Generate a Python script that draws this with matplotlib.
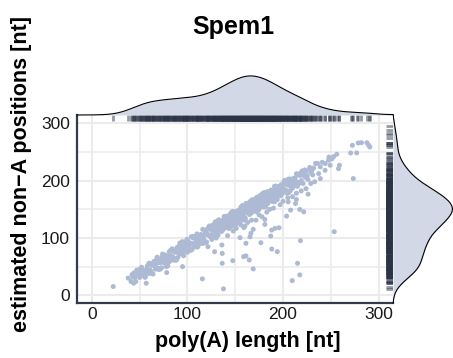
import numpy as np
import matplotlib
matplotlib.use("Agg")
import matplotlib.pyplot as plt
import matplotlib.transforms as mtransforms

plt.rcParams['font.family'] = ['Liberation Sans', 'DejaVu Sans']

# ---------------- data ----------------
band_length = [
    38, 41, 44,
    46, 48, 49, 51, 52, 54,
    55, 56, 58, 59, 60, 62, 63, 64,
    65, 66, 67, 68, 70, 71, 72, 73, 74, 75,
    76, 77, 78, 79, 80, 81, 82, 83, 84, 85,
    86, 87, 88, 89, 90, 91, 92, 93, 94, 95, 95.5,
    96, 97, 98, 99, 100, 101, 102, 103, 104, 105, 97.5, 100.5,
    106, 107, 108, 109, 110, 111, 112, 113, 114, 115, 107.5, 110.5, 112.5, 114.5,
    116, 117, 118, 119, 120, 121, 122, 123, 124, 125, 116.5, 118.5, 120.5, 122.5, 124.5, 119.5,
    126, 127, 128, 129, 130, 131, 132, 133, 134, 135, 126.5, 127.5, 128.5, 129.5, 130.5, 131.5, 132.5, 133.5, 134.5, 125.5,
    136, 137, 138, 139, 140, 141, 142, 143, 144, 145, 135.5, 136.5, 137.5, 138.5, 139.5, 140.5, 141.5, 142.5, 143.5, 144.5, 137.2, 139.8, 141.7, 143.9,
    146, 147, 148, 149, 150, 151, 152, 153, 154, 155, 145.5, 146.5, 147.5, 148.5, 149.5, 150.5, 151.5, 152.5, 153.5, 154.5, 146.8, 148.2, 149.9, 151.3, 152.8, 154.1, 150.2,
    156, 157, 158, 159, 160, 161, 162, 163, 164, 165, 155.5, 156.5, 157.5, 158.5, 159.5, 160.5, 161.5, 162.5, 163.5, 164.5, 155.8, 157.2, 158.8, 160.3, 161.8, 163.2, 164.7, 156.9, 159.1, 162.2,
    166, 167, 168, 169, 170, 171, 172, 173, 174, 175, 165.5, 166.5, 167.5, 168.5, 169.5, 170.5, 171.5, 172.5, 173.5, 174.5, 165.8, 167.3, 168.8, 170.2, 171.7, 173.2, 174.8, 166.9, 169.1, 172.1,
    176, 177, 178, 179, 180, 181, 182, 183, 184, 185, 175.5, 176.5, 177.5, 178.5, 179.5, 180.5, 181.5, 182.5, 183.5, 184.5, 176.2, 178.1, 179.9, 181.7, 183.1, 184.8, 177.6,
    186, 187, 188, 189, 190, 191, 192, 193, 194, 195, 185.5, 186.5, 187.5, 188.5, 189.5, 190.5, 191.5, 192.5, 193.5, 194.5, 188.2, 191.2,
    196, 197, 198, 199, 200, 201, 202, 203, 204, 205, 195.5, 197.5, 199.5, 201.5, 203.5, 196.8, 200.6, 204.3,
    206, 207, 208, 209, 210, 211, 212, 213, 214, 215, 208.5, 211.5,
    216, 217, 218, 219, 220, 221, 222, 223, 224,
    226, 228, 229, 231, 232, 234,
    236, 241, 248, 253,
]
band_nona = [
    30, 24, 39,
    24, 37, 43, 37, 49, 35,
    43, 32, 51, 43, 56, 41, 53, 37,
    59, 53, 49, 64, 47, 62, 57, 48, 72, 63,
    56, 70, 50, 68, 64, 76, 60, 69, 81, 66,
    77, 61, 75, 83, 66, 74, 91, 72, 84, 80, 87.5,
    69, 93, 80, 87, 77, 94, 82, 89, 102, 80, 86.5, 84.5,
    100, 85, 99, 90, 107, 85, 99, 96, 106, 91, 102.5, 95.5, 91.5, 104.5,
    115, 99, 106, 92, 113, 116, 105, 121, 102, 114, 90.5, 110.5, 106.5, 119.5, 105.5, 107.5,
    102, 120, 112, 128, 109, 121, 105, 127, 121, 117, 122.5, 104.5, 119.5, 114.5, 105.5, 129.5, 120.5, 113.5, 127.5, 97.5,
    125, 121, 133, 117, 126, 138, 123, 134, 118, 132, 129.5, 112.5, 120.5, 137.5, 118.5, 130.5, 126.5, 134.5, 116.5, 140.5, 119.2, 127.8, 118.7, 136.9,
    126, 133, 146, 124, 139, 135, 146, 131, 145, 136, 142.5, 120.5, 134.5, 131.5, 141.5, 126.5, 146.5, 137.5, 132.5, 144.5, 145.8, 130.2, 137.9, 124.3, 145.8, 149.1, 133.2,
    154, 135, 147, 133, 152, 147, 159, 144, 152, 141, 148.5, 140.5, 156.5, 137.5, 149.5, 133.5, 155.5, 149.5, 145.5, 160.5, 132.8, 148.2, 143.8, 135.3, 159.8, 151.2, 144.7, 149.9, 131.1, 151.2,
    150, 162, 146, 155, 167, 152, 163, 147, 161, 169, 141.5, 149.5, 166.5, 147.5, 159.5, 155.5, 163.5, 145.5, 169.5, 156.5, 153.8, 144.3, 161.8, 150.2, 157.7, 171.2, 149.8, 155.9, 153.1, 166.1,
    154, 168, 159, 176, 154, 168, 165, 175, 160, 180, 160.5, 155.5, 167.5, 177.5, 161.5, 168.5, 154.5, 175.5, 178.5, 167.5, 174.2, 156.1, 168.9, 155.7, 175.1, 170.8, 174.6,
    167, 175, 164, 182, 174, 190, 171, 183, 167, 189, 172.5, 168.5, 183.5, 165.5, 180.5, 175.5, 166.5, 190.5, 181.5, 174.5, 181.2, 163.2,
    185, 181, 193, 177, 186, 198, 183, 194, 178, 192, 189.5, 173.5, 182.5, 200.5, 182.5, 186.8, 185.6, 196.3,
    179, 203, 190, 197, 187, 204, 192, 199, 212, 190, 197.5, 195.5,
    210, 195, 209, 200, 217, 195, 209, 206, 216,
    202, 223, 214, 210, 222, 230,
    230, 232, 241, 242,
]

# extra reads in the short-tail shoulder
short_length = [42, 45, 47, 50, 53, 55.5, 57, 59.5, 61, 63.5, 66.5, 68.5, 69.5, 71.5, 73.5,
                76.5, 78.5, 80.5, 82.5, 84.5, 86.5, 88.5, 90.5, 92.5, 94.5, 96.5, 98.5, 101.5,
                103.5, 105.5, 108.5, 111.5, 113.5, 43, 50.5, 57.5, 64.5, 75.5, 87.5, 99.5, 109.5,
                62.5, 79.5, 91.5, 104.5]
short_nona = [36, 31, 44, 31, 44, 31.5, 45, 54.5, 44, 55.5, 45.5, 66.5, 56.5, 45.5, 66.5,
              60.5, 68.5, 58.5, 78.5, 66.5, 75.5, 61.5, 84.5, 77.5, 93.5, 76.5, 89.5, 88.5,
              78.5, 102.5, 91.5, 103.5, 90.5, 32, 45.5, 38.5, 52.5, 68.5, 63.5, 97.5, 94.5,
              52.5, 51.5, 85.5, 90.5]

# extra reads in the dense main band
dense_length = [120.25, 122.75, 125.25, 127.75, 130.25, 132.75, 135.25, 137.75, 140.25, 142.75,
                145.25, 147.75, 150.25, 152.75, 155.25, 157.75, 160.25, 162.75, 165.25, 167.75,
                170.25, 172.75, 175.25, 177.75, 180.25, 182.75, 185.25, 187.75, 190.25, 192.75,
                195.25, 197.75, 200.25, 202.75, 205.25, 207.75, 210.25, 212.75, 215.25, 217.75,
                141.25, 143.75, 146.25, 148.75, 151.25, 153.75, 156.25, 158.75, 161.25, 163.75,
                166.25, 168.75, 171.25, 173.75, 176.25, 178.75, 181.25, 183.75, 186.25, 188.75,
                152.25, 157.25, 162.25, 167.25, 172.25, 177.25, 182.25, 187.25, 192.25, 197.25,
                220.25, 222.75, 225.25, 227.75, 230.25]
dense_nona = [107.25, 118.75, 105.25, 118.75, 114.25, 131.75, 111.25, 126.75, 133.25, 124.75,
              142.25, 125.75, 136.25, 144.75, 129.25, 152.75, 148.25, 143.75, 163.25, 152.75,
              160.25, 149.75, 169.25, 160.75, 179.25, 161.75, 176.25, 174.75, 163.25, 188.75,
              179.25, 186.75, 193.25, 182.75, 202.25, 182.75, 198.25, 204.75, 197.25, 212.75,
              127.25, 121.75, 144.25, 138.75, 134.25, 147.75, 132.25, 145.75, 160.25, 144.75,
              157.25, 153.75, 167.25, 152.75, 165.25, 171.75, 155.25, 180.75, 170.25, 176.75,
              144.25, 137.25, 157.25, 153.25, 170.25, 154.25, 172.25, 169.25, 186.25, 184.25,
              211.25, 218.75, 208.25, 220.75, 218.25]

tail_length = [60, 70, 85, 100, 110, 120, 130, 142, 148, 151, 156, 159, 163, 167,
               171.6, 175, 178, 183, 186, 190, 197, 200, 205, 210, 214, 219, 224, 229, 233]
tail_nona = [38, 45, 62, 75, 84, 93, 100, 104, 112, 116.7, 122.5, 118, 127, 131,
             131, 140, 137, 145, 150, 152, 158, 164, 170, 172, 178, 182, 186, 195, 198]

outlier_length = [22.4, 43.8, 56.9, 78.3, 94.9, 115.6, 137.7,
                  121.5, 128.4, 136, 136.4, 136.4, 147.4, 158.8, 161.2, 164.7, 168.8,
                  155, 161.2, 165.4, 166.4, 168.8, 160.2, 176.8, 181, 181, 187.1, 188.2, 191.6, 195.8, 188.2, 194,
                  203.7, 205.4, 207.9, 213, 214, 217.5, 221.7, 226.2, 218.2, 253.5, 215.1, 217.5, 209.6,
                  239, 258, 273.5, 259, 256.2, 251, 247.6, 244.1, 239, 237.2, 244, 249.3,
                  270.7, 277, 272.5, 278.6, 282, 289.7, 290.8, 287.7]
outlier_nona = [15.2, 21, 21, 39.6, 50, 28.6, 11.2,
                84.8, 76, 87.7, 73, 55.8, 60.4, 67.4, 68.6, 61.6, 46,
                100.4, 90.6, 102, 108, 115, 120.7, 91.7, 132.3, 123.6, 103.3, 113.8, 116.7, 117.8, 80.7, 76.1,
                138.1, 163, 148.6, 160.1, 167, 149.7, 145.6, 176.4, 95.2, 110.9, 55.8, 35.5, 25.6,
                203.6, 221, 203.6, 226.8, 246, 238, 235.5, 229.7, 224, 212.3, 218, 226.8,
                248.3, 248.3, 261.6, 265.7, 266.2, 261.6, 258.7, 266.2]

# reads beyond the 300 nt window (only visible in the right rug)
offscale_length = [322, 338, 355, 372, 401]
offscale_nona = [296, 289, 283, 279, 275]

x_ticks = [0, 100, 200, 300]
y_ticks = [0, 100, 200, 300]
title = "Spem1"
xlabel = "poly(A) length [nt]"
ylabel = "estimated non\u2212A positions [nt]"

# ---------------- assemble ----------------
xs = np.array(band_length + short_length + dense_length + tail_length + outlier_length
              + offscale_length, float)
ys = np.array(band_nona + short_nona + dense_nona + tail_nona + outlier_nona
              + offscale_nona, float)


def kde(data, grid):
    n = len(data)
    sd = np.std(data, ddof=1)
    iqr = np.percentile(data, 75) - np.percentile(data, 25)
    bw = 0.9 * min(sd, iqr / 1.34) * n ** -0.2
    z = (grid[:, None] - data[None, :]) / bw
    return np.exp(-0.5 * z ** 2).sum(axis=1) / (n * bw * np.sqrt(2 * np.pi))


W, H = 453, 358
fig = plt.figure(figsize=(W / 100, H / 100), dpi=100)
fig.patch.set_facecolor('white')

L, R, T, B = 77, 393, 115, 303
ax = fig.add_axes([L / W, (H - B) / H, (R - L) / W, (B - T) / H])
xlim = (-15.5, 315)
ylim = (-13.5, 314.5)
ax.set_xlim(*xlim)
ax.set_ylim(*ylim)
ax.set_facecolor('white')

ax.set_xticks(x_ticks)
ax.set_yticks(y_ticks)
ax.set_xticks([50, 150, 250], minor=True)
ax.set_yticks([50, 150, 250], minor=True)
ax.grid(which='major', color='#EBEBEB', lw=1.5, zorder=0)
ax.grid(which='minor', color='#EBEBEB', lw=1.1, zorder=0)
ax.set_axisbelow(True)
ax.tick_params(which='both', length=0)
ax.tick_params(axis='x', pad=3, labelsize=12.5, labelcolor='#1a1a1a')
ax.tick_params(axis='y', pad=5, labelsize=12.5, labelcolor='#1a1a1a')
for s in ['top', 'right']:
    ax.spines[s].set_visible(False)
for s in ['left', 'bottom']:
    ax.spines[s].set_color('#323B4A')
    ax.spines[s].set_linewidth(1.6)

ax.scatter(xs, ys, s=13, color='#AEBAD4', edgecolors='none', zorder=2)

rug_col = '#2B3446'
trx = mtransforms.blended_transform_factory(ax.transData, ax.transAxes)
ax.vlines(xs, 1 - 0.032, 1, transform=trx, color=rug_col, alpha=0.5, lw=2.0, zorder=3)
tr_y = mtransforms.blended_transform_factory(ax.transAxes, ax.transData)
ax.hlines(ys, 1 - 0.022, 1, transform=tr_y, color=rug_col, alpha=0.5, lw=2.0, zorder=3)

fill_col = '#D2D8E6'
# top marginal density
gx = np.linspace(xlim[0], xlim[1], 400)
dx = kde(xs, gx)
axt = fig.add_axes([L / W, (H - T) / H, (R - L) / W, 43 / H])
axt.set_xlim(*xlim)
axt.set_ylim(0, dx.max() * 1.1)
axt.fill_between(gx, 0, dx, color=fill_col, lw=0)
axt.plot(gx, dx, color='black', lw=0.8, clip_on=False)
axt.axis('off')

# right marginal density
gy = np.linspace(ylim[0], ylim[1], 400)
dy = kde(ys, gy)
axr = fig.add_axes([R / W, (H - B) / H, 60 / W, (B - T) / H])
axr.set_ylim(*ylim)
axr.set_xlim(0, dy.max() * 1.01)
axr.fill_betweenx(gy, 0, dy, color=fill_col, lw=0)
axr.plot(dy, gy, color='black', lw=0.8, clip_on=False)
axr.axis('off')

fig.text(233 / W, 1 - 27 / H, title, ha='center', va='center', fontsize=18, fontweight='bold')
fig.text(248 / W, 1 - 341 / H, xlabel, ha='center', va='center', fontsize=15.5, fontweight='bold')
fig.text(22 / W, 1 - 174 / H, ylabel, ha='center', va='center', rotation=90, fontsize=15.5,
         fontweight='bold')

fig.savefig('out.png', dpi=100, facecolor='white')
